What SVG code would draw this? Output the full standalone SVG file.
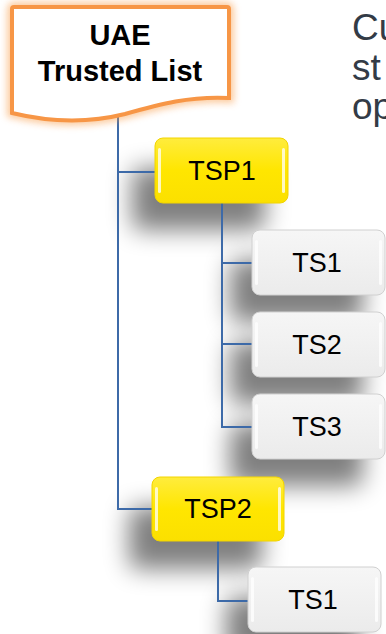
<svg xmlns="http://www.w3.org/2000/svg" width="386" height="634" viewBox="0 0 386 634">
<style>
.lbl{font-family:"Liberation Sans",Arial,sans-serif;font-size:27px;fill:#000;text-anchor:middle}
.title{font-family:"Liberation Sans",Arial,sans-serif;font-size:29px;font-weight:bold;fill:#000;text-anchor:middle}
.side{font-family:"Liberation Sans",Arial,sans-serif;font-size:37px;fill:#333b46}
.conn{fill:none;stroke:#3d6aa8;stroke-width:2}
.yel{fill:url(#gy);stroke:#f2d400;stroke-width:1}
.gry{fill:url(#gg);stroke:#d0d0d0;stroke-width:1}
.hl{fill:#fff;opacity:0.75}
.shd{fill:#000;opacity:0.5;filter:url(#blur)}
</style>
<defs>
<filter id="blur" x="-50%" y="-50%" width="200%" height="200%"><feGaussianBlur stdDeviation="12"/></filter>
<filter id="glow" x="-20%" y="-20%" width="140%" height="140%"><feGaussianBlur stdDeviation="3.5"/></filter>
<linearGradient id="gy" x1="0" y1="0" x2="0" y2="1"><stop offset="0" stop-color="#ffec3d"/><stop offset="0.5" stop-color="#ffe600"/><stop offset="1" stop-color="#fbe000"/></linearGradient>
<linearGradient id="gg" x1="0" y1="0" x2="0" y2="1"><stop offset="0" stop-color="#f6f6f6"/><stop offset="1" stop-color="#ebebeb"/></linearGradient>
</defs>

<g id="shadows">
<rect class="shd" x="132" y="168" width="133" height="62" rx="8"/>
<rect class="shd" x="230" y="260" width="133" height="62" rx="8"/>
<rect class="shd" x="230" y="342" width="133" height="62" rx="8"/>
<rect class="shd" x="230" y="424" width="133" height="62" rx="8"/>
<rect class="shd" x="129" y="507" width="133" height="62" rx="8"/>
<rect class="shd" x="226" y="597" width="133" height="62" rx="8"/>
</g>

<g id="connectors">
<path class="conn" d="M118,116 V509 H152"/>
<path class="conn" d="M118,172 H155"/>
<path class="conn" d="M222,203 V427 H252"/>
<path class="conn" d="M222,263 H252"/>
<path class="conn" d="M222,344 H252"/>
<path class="conn" d="M218,541 V601 H248"/>
</g>

<g id="uae">
<path d="M12,9 Q12,7 14,7 L227,7 Q229,7 229,9 L229,98 C190,96 160,104 125,114 C85,124 45,121 12,113 Z" fill="none" stroke="#f9a050" stroke-width="10" opacity="0.55" filter="url(#glow)"/>
<path d="M12,9 Q12,7 14,7 L227,7 Q229,7 229,9 L229,98 C190,96 160,104 125,114 C85,124 45,121 12,113 Z" fill="#fff" stroke="#f79646" stroke-width="4"/>
<text class="title" x="120" y="45">UAE</text>
<text class="title" x="120" y="81">Trusted List</text>
</g>

<g id="tsp1">
<rect class="yel" x="155" y="138" width="133" height="65" rx="8"/>
<rect class="hl" x="158" y="148" width="3" height="45" rx="1.5"/>
<rect class="hl" x="282" y="148" width="3" height="45" rx="1.5"/>
<text class="lbl" x="222" y="180">TSP1</text>
</g>

<g id="ts1a">
<rect class="gry" x="252" y="230" width="133" height="65" rx="8"/>
<rect class="hl" x="255" y="240" width="3" height="45" rx="1.5"/>
<rect class="hl" x="379" y="240" width="3" height="45" rx="1.5"/>
<text class="lbl" x="317" y="272">TS1</text>
</g>

<g id="ts2">
<rect class="gry" x="252" y="312" width="133" height="65" rx="8"/>
<rect class="hl" x="255" y="322" width="3" height="45" rx="1.5"/>
<rect class="hl" x="379" y="322" width="3" height="45" rx="1.5"/>
<text class="lbl" x="317" y="354">TS2</text>
</g>

<g id="ts3">
<rect class="gry" x="252" y="394" width="133" height="65" rx="8"/>
<rect class="hl" x="255" y="404" width="3" height="45" rx="1.5"/>
<rect class="hl" x="379" y="404" width="3" height="45" rx="1.5"/>
<text class="lbl" x="317" y="436">TS3</text>
</g>

<g id="tsp2">
<rect class="yel" x="152" y="477" width="132" height="64" rx="8"/>
<rect class="hl" x="155" y="487" width="3" height="44" rx="1.5"/>
<rect class="hl" x="278" y="487" width="3" height="44" rx="1.5"/>
<text class="lbl" x="218" y="518">TSP2</text>
</g>

<g id="ts1b">
<rect class="gry" x="248" y="567" width="133" height="65" rx="8"/>
<rect class="hl" x="251" y="577" width="3" height="45" rx="1.5"/>
<rect class="hl" x="375" y="577" width="3" height="45" rx="1.5"/>
<text class="lbl" x="313" y="609">TS1</text>
</g>

<g id="sidetext">
<text class="side" x="352" y="40">Cu</text>
<text class="side" x="352" y="80">st</text>
<text class="side" x="352" y="119">op</text>
</g>
</svg>
